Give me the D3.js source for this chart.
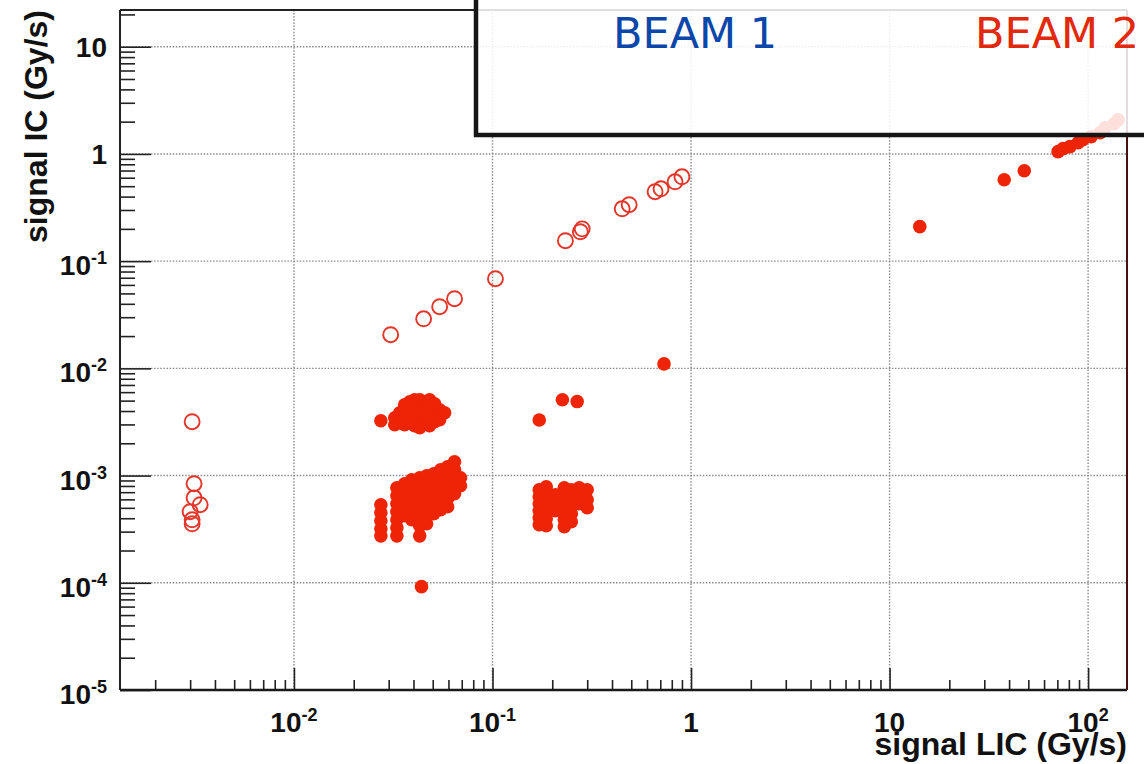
<!DOCTYPE html>
<html><head><meta charset="utf-8">
<script src="https://cdn.jsdelivr.net/npm/d3@7"></script>
<style>body{margin:0;background:#fff}svg{display:block}</style>
</head><body><svg id="c" width="1144" height="764"></svg>
<script>
// ---------- data ----------
const xMajor = [0.01, 0.1, 1, 10, 100];
const xLabels = [["10","-2"],["10","-1"],["1",""],["10",""],["10","2"]];
const yMajor = [1e-5, 1e-4, 1e-3, 1e-2, 1e-1, 1, 10];
const yLabels = [["10","-5"],["10","-4"],["10","-3"],["10","-2"],["10","-1"],["1",""],["10",""]];
const legendNames = ["BEAM 1", "BEAM 2"];

// open circles [LIC, IC]
const openLow = [[3.07e-3,3.18e-3],[3.14e-3,8.4e-4],[3.14e-3,6.2e-4],[3.37e-3,5.35e-4],[3.0e-3,4.6e-4],[3.07e-3,3.87e-4],[3.07e-3,3.55e-4]];
const openLine = [[0.0307,0.0206],[0.045,0.029],[0.0542,0.0376],[0.0644,0.0446],[0.1035,0.0686],[0.233,0.155],[0.277,0.188],[0.283,0.2],[0.45,0.308],[0.488,0.336],[0.659,0.444],[0.706,0.473],[0.831,0.55],[0.90,0.612]];

// filled circles [LIC, IC]
const filledHigh = [[14.2,0.21],[37.8,0.574],[47.7,0.697],[70.6,1.05],[74.8,1.12],[81,1.17],[89,1.27],[94,1.36],[103.5,1.45],[115,1.58],[121.7,1.75],[135,1.91],[141.5,2.08]];
const filledSingles = [[0.731,0.011],[0.172,3.3e-3],[0.225,5.1e-3],[0.267,4.9e-3],[0.0439,9.2e-5]];
const filledUpperCluster = [[0.0274,3.25e-3],[0.0322,3.46e-3],[0.0322,2.98e-3],[0.0341,3.85e-3],[0.0341,3.18e-3],
 [0.0361,4.57e-3],[0.0361,3.69e-3],[0.0361,2.98e-3],[0.0383,4.88e-3],[0.0383,3.94e-3],[0.0383,3.18e-3],
 [0.0405,5.09e-3],[0.0405,4.29e-3],[0.0405,3.46e-3],[0.0405,2.92e-3],[0.043,5.09e-3],[0.043,4.11e-3],[0.043,3.32e-3],[0.043,2.79e-3],
 [0.0455,4.88e-3],[0.0455,3.94e-3],[0.0455,3.18e-3],[0.0482,5.09e-3],[0.0482,4.29e-3],[0.0482,3.46e-3],[0.0482,2.92e-3],
 [0.0511,4.68e-3],[0.0511,3.77e-3],[0.0511,3.18e-3],[0.0542,4.11e-3],[0.0542,3.32e-3],[0.0574,3.85e-3]];
// lower clusters: one LIC value per column, list of IC values
const lowerLIC = [0.0274,0.033,0.0361,0.0392,0.043,0.0466,0.0506,0.0548,0.0594,0.0644,0.069];
const lowerIC = [[5.35e-4,4.5e-4,3.79e-4,3.19e-4,2.74e-4],
 [7.69e-4,6.49e-4,5.46e-4,4.59e-4,3.87e-4,3.26e-4,2.74e-4],
 [8.38e-4,7.06e-4,5.94e-4,5.01e-4,4.22e-4],
 [9.14e-4,7.69e-4,6.49e-4,5.46e-4,4.59e-4,3.87e-4],
 [9.53e-4,8.03e-4,6.76e-4,5.7e-4,4.8e-4,4.04e-4,3.4e-4,2.74e-4],
 [9.95e-4,8.38e-4,7.06e-4,5.94e-4,5.01e-4,4.22e-4,3.55e-4],
 [1.04e-3,8.75e-4,7.38e-4,6.21e-4,5.22e-4,4.41e-4],
 [1.133e-3,9.53e-4,8.03e-4,6.76e-4,5.7e-4,4.8e-4],
 [1.208e-3,1.016e-3,8.57e-4,7.21e-4,6.08e-4,5.12e-4],
 [1.345e-3,1.133e-3,9.53e-4,8.03e-4,6.76e-4],
 [9.53e-4,8.03e-4]];
const midLIC = [0.172,0.1866,0.2075,0.23,0.2495,0.2735,0.30];
const midIC = [[7.38e-4,6.34e-4,5.46e-4,4.7e-4,4.04e-4,3.48e-4],
 [7.87e-4,6.62e-4,5.57e-4,4.7e-4,3.95e-4,3.4e-4],
 [6.62e-4,5.57e-4,4.7e-4],
 [7.69e-4,6.49e-4,5.46e-4,4.59e-4,3.87e-4,3.33e-4],
 [7.38e-4,6.21e-4,5.22e-4,4.41e-4,3.71e-4],
 [7.69e-4,6.49e-4,5.46e-4],
 [7.38e-4,5.94e-4,5.01e-4]];

// ---------- drawing ----------
const L=120,R=1127,T=10,B=690;
const x=d3.scaleLog().domain([1.33e-3,157]).range([L,R]);
const y=d3.scaleLog().domain([1e-5,22]).range([B,T]);
const svg=d3.select("#c");
const FONT='"Liberation Sans", Arial, Helvetica, sans-serif';

// grid
const g=svg.append("g");
g.selectAll(".vg").data(xMajor).enter().append("line")
 .attr("x1",d=>x(d)).attr("x2",d=>x(d)).attr("y1",T).attr("y2",B)
 .attr("stroke","#8a8a8a").attr("stroke-width",1.4).attr("stroke-dasharray","1.5,1.6");
g.selectAll(".hg").data(yMajor.slice(1)).enter().append("line")
 .attr("y1",d=>y(d)).attr("y2",d=>y(d)).attr("x1",L).attr("x2",R)
 .attr("stroke","#8a8a8a").attr("stroke-width",1.4).attr("stroke-dasharray","1.5,1.6");

// axes ticks (inward)
const isPow=v=>Math.abs(Math.log10(v)-Math.round(Math.log10(v)))<1e-6;
const xMinor=x.ticks().filter(v=>!isPow(v));
const yMinor=y.ticks().filter(v=>!isPow(v));
function styleAxis(sel){sel.select(".domain").remove();sel.selectAll("line").attr("stroke","#222").attr("stroke-width",1.6);}
svg.append("g").attr("transform",`translate(0,${B})`).call(d3.axisBottom(x).tickValues(xMinor).tickSize(-10).tickFormat("")).call(styleAxis);
svg.append("g").attr("transform",`translate(0,${B})`).call(d3.axisBottom(x).tickValues(xMajor).tickSize(-22).tickFormat("")).call(styleAxis);
svg.append("g").attr("transform",`translate(${L},0)`).call(d3.axisLeft(y).tickValues(yMinor).tickSize(-15).tickFormat("")).call(styleAxis);
svg.append("g").attr("transform",`translate(${L},0)`).call(d3.axisLeft(y).tickValues(yMajor).tickSize(-31).tickFormat("")).call(styleAxis);

// data points
const pts=svg.append("g");
const openAll=openLow.concat(openLine);
pts.selectAll(".o").data(openAll).enter().append("circle")
 .attr("cx",d=>x(d[0])).attr("cy",d=>y(d[1])).attr("r",7.5)
 .attr("fill","none").attr("stroke","#e2362a").attr("stroke-width",1.9);
let filledAll=filledHigh.concat(filledSingles,filledUpperCluster);
lowerLIC.forEach((v,i)=>lowerIC[i].forEach(w=>filledAll.push([v,w])));
midLIC.forEach((v,i)=>midIC[i].forEach(w=>filledAll.push([v,w])));
pts.selectAll(".f").data(filledAll).enter().append("circle")
 .attr("cx",d=>x(d[0])).attr("cy",d=>y(d[1])).attr("r",6.8)
 .attr("fill","#ee2406");

// frame
svg.append("line").attr("x1",L).attr("x2",R).attr("y1",T).attr("y2",T).attr("stroke","#222").attr("stroke-width",2);
svg.append("line").attr("x1",L).attr("x2",L).attr("y1",T).attr("y2",B).attr("stroke","#222").attr("stroke-width",2);
svg.append("line").attr("x1",L).attr("x2",R).attr("y1",B).attr("y2",B).attr("stroke","#1a1a1a").attr("stroke-width",2.6);
svg.append("line").attr("x1",R).attr("x2",R).attr("y1",T).attr("y2",B).attr("stroke","#4a1010").attr("stroke-width",2);

// tick labels
function lab(sel,d){
  sel.append("tspan").text(d[0]);
  if(d[1]) sel.append("tspan").attr("dy",-11).attr("font-size",18).text(d[1]);
}
xMajor.forEach((v,i)=>{
  const t=svg.append("text").attr("x",x(v)).attr("y",732).attr("text-anchor","middle")
   .attr("font-family",FONT).attr("font-weight","bold").attr("font-size",28).attr("fill","#111");
  lab(t,xLabels[i]);
});
yMajor.forEach((v,i)=>{
  const sup=yLabels[i][1]!=="";
  const t=svg.append("text").attr("x",107).attr("y",y(v)+(sup?14:10)).attr("text-anchor","end")
   .attr("font-family",FONT).attr("font-weight","bold").attr("font-size",28).attr("fill","#111");
  lab(t,yLabels[i]);
});

// axis titles
svg.append("text").attr("x",R).attr("y",755).attr("text-anchor","end")
 .attr("font-family",FONT).attr("font-weight","bold").attr("font-size",32).attr("fill","#111")
 .text("signal LIC (Gy/s)");
svg.append("text").attr("transform","translate(47,10) rotate(-90)").attr("text-anchor","end")
 .attr("font-family",FONT).attr("font-weight","bold").attr("font-size",32).attr("fill","#111")
 .text("signal IC (Gy/s)");

// legend box
svg.append("rect").attr("x",476).attr("y",-20).attr("width",740).attr("height",155)
 .attr("fill","#fff").attr("fill-opacity",0.86).attr("stroke","#161616").attr("stroke-width",4.5);
svg.append("text").attr("x",613).attr("y",48).attr("font-family",'"DejaVu Sans", sans-serif').attr("font-size",43)
 .attr("fill","#0b47aa").text(legendNames[0]);
svg.append("text").attr("x",975).attr("y",48).attr("font-family",'"DejaVu Sans", sans-serif').attr("font-size",43)
 .attr("fill","#e3290d").text(legendNames[1]);
</script></body></html>
